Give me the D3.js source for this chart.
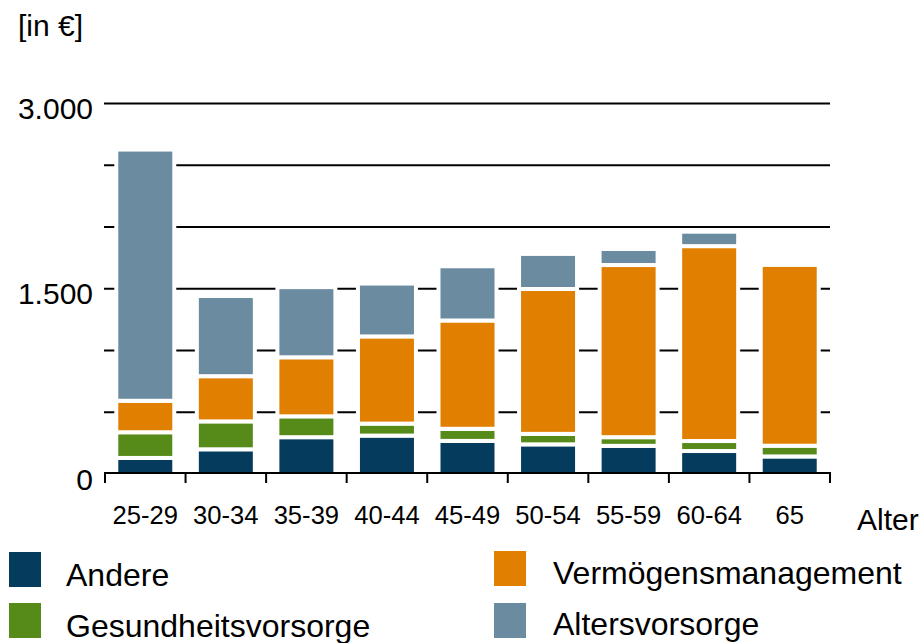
<!DOCTYPE html>
<html>
<head>
<meta charset="utf-8">
<script src="https://cdn.jsdelivr.net/npm/d3@7"></script>
<style>
  html, body { margin: 0; padding: 0; background: #fff; }
  svg { display: block; font-family: "Liberation Sans", Arial, sans-serif; }
</style>
</head>
<body>
<svg id="chart" width="922" height="643"></svg>
<script>
const categories = ["25-29", "30-34", "35-39", "40-44", "45-49", "50-54", "55-59", "60-64", "65"];
const andere = [130, 200, 298, 311, 268, 240, 228, 186, 142];
const gesundheitsvorsorge = [208, 226, 169, 97, 98, 85, 70, 81, 87];
const vermoegensmanagement = [255, 366, 478, 706, 877, 1173, 1394, 1578, 1464];
const altersvorsorge = [2034, 649, 568, 428, 439, 284, 130, 117, 0];
const seriesNames = ["Andere", "Gesundheitsvorsorge", "Vermögensmanagement", "Altersvorsorge"];
const seriesColors = ["#053b5c", "#578b19", "#e07f00", "#6a8ba0"];
const yTickValues = [0, 1500, 3000];
const gridValues = [500, 1000, 1500, 2000, 2500, 3000];

const table = categories.map((c, i) => ({
  cat: c,
  "Andere": andere[i],
  "Gesundheitsvorsorge": gesundheitsvorsorge[i],
  "Vermögensmanagement": vermoegensmanagement[i],
  "Altersvorsorge": altersvorsorge[i]
}));

const svg = d3.select("#chart");
const x = d3.scaleBand().domain(categories).range([105, 830]).paddingInner(0.28).paddingOuter(0.14);
const y = d3.scaleLinear().domain([0, 3000]).range([474, 103.5]);

// gridlines
svg.append("g").selectAll("line").data(gridValues).join("line")
  .attr("x1", 104).attr("x2", 830)
  .attr("y1", d => y(d)).attr("y2", d => y(d))
  .attr("stroke", "#000").attr("stroke-width", 2);

// stacked bars
const stack = d3.stack().keys(seriesNames)(table);
const color = d3.scaleOrdinal().domain(seriesNames).range(seriesColors);
svg.append("g").selectAll("g").data(stack).join("g")
  .attr("fill", d => color(d.key))
  .selectAll("rect").data(d => d.filter(p => p[1] - p[0] > 0)).join("rect")
  .attr("x", d => x(d.data.cat))
  .attr("width", x.bandwidth())
  .attr("y", d => y(d[1]))
  .attr("height", d => y(d[0]) - y(d[1]))
  .attr("stroke", "#fff").attr("stroke-width", 4);

// x axis line and ticks at band boundaries
const step = x.step();
const half = (step - x.bandwidth()) / 2;
const boundaries = categories.map(c => x(c) - half).concat([x(categories[categories.length - 1]) + x.bandwidth() + half]);
const xa = svg.append("g");
xa.append("line").attr("x1", 104).attr("x2", 831).attr("y1", 473).attr("y2", 473)
  .attr("stroke", "#000").attr("stroke-width", 2);
xa.selectAll("line.tick").data(boundaries).join("line").attr("class", "tick")
  .attr("x1", d => d).attr("x2", d => d).attr("y1", 472).attr("y2", 483)
  .attr("stroke", "#000").attr("stroke-width", 2);
xa.selectAll("text").data(categories).join("text")
  .attr("x", d => x(d) + x.bandwidth() / 2).attr("y", 524)
  .attr("text-anchor", "middle").attr("font-size", 25.6).attr("fill", "#000")
  .text(d => d);

// y tick labels
const yAxis = d3.axisLeft(y).tickValues(yTickValues).tickSize(0).tickPadding(0)
  .tickFormat(d => d3.format(",")(d).replace(/,/g, "."));
const ya = svg.append("g").attr("transform", "translate(93,0)").call(yAxis);
ya.select(".domain").remove();
ya.selectAll("text").attr("font-size", 30).attr("font-family", "Liberation Sans, Arial, sans-serif")
  .attr("fill", "#000").attr("dy", "0.5em");

svg.append("text").attr("x", 18).attr("y", 36).attr("font-size", 30).text("[in €]");
svg.append("text").attr("x", 857).attr("y", 530).attr("font-size", 30).text("Alter");

// legend
const legendPos = [
  {sx: 9, sy: 552, tx: 66, ty: 586},
  {sx: 9, sy: 603, tx: 66, ty: 637},
  {sx: 494, sy: 551, tx: 553, ty: 584},
  {sx: 494, sy: 603, tx: 553, ty: 635}
];
const lg = svg.append("g").selectAll("g").data(seriesNames).join("g");
lg.append("rect")
  .attr("x", (d, i) => legendPos[i].sx).attr("y", (d, i) => legendPos[i].sy)
  .attr("width", 32).attr("height", 35).attr("fill", d => color(d));
lg.append("text")
  .attr("x", (d, i) => legendPos[i].tx).attr("y", (d, i) => legendPos[i].ty)
  .attr("font-size", 32).attr("fill", "#000").text(d => d);
</script>
</body>
</html>
